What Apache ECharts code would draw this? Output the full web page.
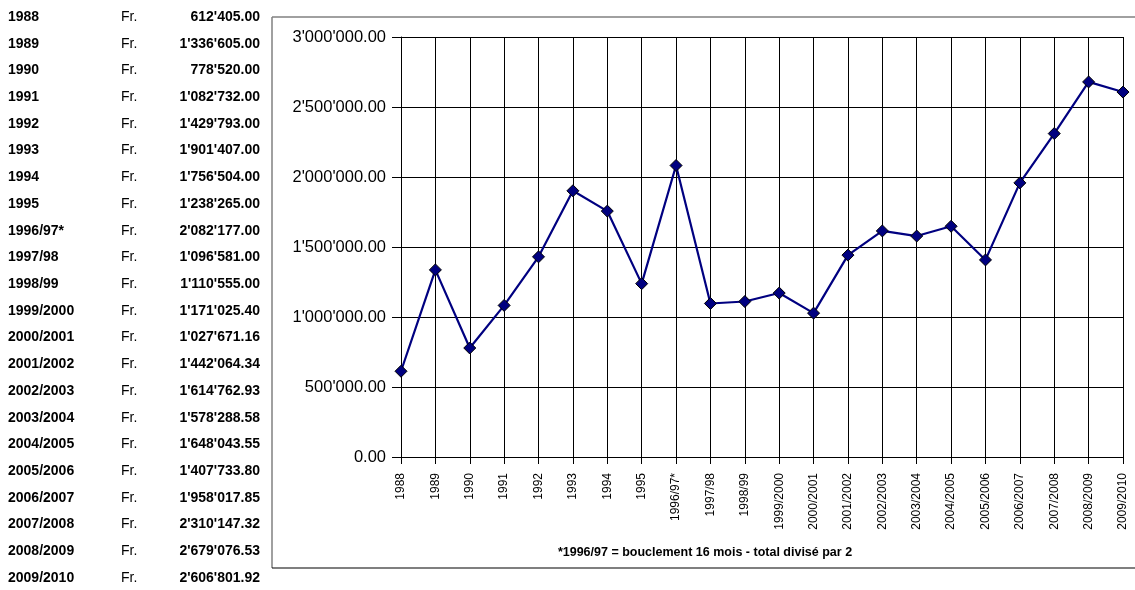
<!DOCTYPE html>
<html><head><meta charset="utf-8">
<script src="https://cdn.jsdelivr.net/npm/echarts@6/dist/echarts.min.js"></script>
<style>html,body{margin:0;padding:0;background:#fff}#c{width:1135px;height:590px}</style>
</head><body><div id="c"></div>
<script>
const categories = ['1988','1989','1990','1991','1992','1993','1994','1995','1996/97*','1997/98','1998/99','1999/2000','2000/2001','2001/2002','2002/2003','2003/2004','2004/2005','2005/2006','2006/2007','2007/2008','2008/2009','2009/2010'];
const axisLabels = ['1988','1989','1990','1991','1992','1993','1994','1995','1996/97*','1997/98','1998/99','1999/2000','2000/2001','2001/2002','2002/2003','2003/2004','2004/2005','2005/2006','2006/2007','2007/2008','2008/2009','2009/2010'];
const values = [612405.00,1336605.00,778520.00,1082732.00,1429793.00,1901407.00,1756504.00,1238265.00,2082177.00,1096581.00,1110555.00,1171025.40,1027671.16,1442064.34,1614762.93,1578288.58,1648043.55,1407733.80,1958017.85,2310147.32,2679076.53,2606801.92];
const currency = 'Fr.';
const footnote = '*1996/97 = bouclement 16 mois - total divisé par 2';

function fmt(v){
  const parts = v.toFixed(2).split('.');
  return parts[0].replace(/\B(?=(\d{3})+(?!\d))/g, "'") + '.' + parts[1];
}
const FONT = '"Liberation Sans", Arial, sans-serif';
const chart = echarts.init(document.getElementById('c'));
const graphics = [];
// frame
graphics.push({type:'line', shape:{x1:272,y1:17,x2:1140,y2:17}, style:{stroke:'#808080',lineWidth:1.5}, silent:true});
graphics.push({type:'line', shape:{x1:272,y1:17,x2:272,y2:568}, style:{stroke:'#808080',lineWidth:1.5}, silent:true});
graphics.push({type:'line', shape:{x1:272,y1:568,x2:1140,y2:568}, style:{stroke:'#000',lineWidth:1.2}, silent:true});
// table
const rowTop = 17, rowStep = (578-17)/21;
categories.forEach((c,i)=>{
  const y = rowTop + i*rowStep;
  graphics.push({type:'text', x:8, y:y, style:{text:c, font:'bold 14px '+FONT, fill:'#000', verticalAlign:'middle', align:'left'}, silent:true});
  graphics.push({type:'text', x:121, y:y, style:{text:currency, font:'14px '+FONT, fill:'#000', verticalAlign:'middle', align:'left'}, silent:true});
  graphics.push({type:'text', x:260, y:y, style:{text:fmt(values[i]), font:'bold 14px '+FONT, fill:'#000', verticalAlign:'middle', align:'right'}, silent:true});
});
graphics.push({type:'text', x:705, y:553, style:{text:footnote, font:'bold 12.5px '+FONT, fill:'#000', verticalAlign:'middle', align:'center'}, silent:true});

chart.setOption({
  animation:false,
  backgroundColor:'#fff',
  grid:{left:401, right:12, top:37, bottom:133, containLabel:false},
  xAxis:{type:'category', data:axisLabels, boundaryGap:false,
    axisLine:{lineStyle:{color:'#000',width:1}},
    axisTick:{show:true, alignWithLabel:true, length:7, lineStyle:{color:'#000'}},
    axisLabel:{rotate:90, interval:0, fontSize:12, fontFamily:FONT, color:'#000', margin:16},
    splitLine:{show:true, lineStyle:{color:'#000',width:1}}},
  yAxis:{type:'value', min:0, max:3000000, interval:500000,
    axisLine:{show:true, lineStyle:{color:'#000'}},
    axisTick:{show:true, length:9, lineStyle:{color:'#000'}},
    axisLabel:{fontSize:16.5, fontFamily:FONT, color:'#000', margin:15, formatter:v=>fmt(v)},
    splitLine:{show:true, lineStyle:{color:'#000',width:1}}},
  series:[{type:'line', data:values, symbol:'diamond', symbolSize:12,
    lineStyle:{color:'#000080', width:2.2},
    itemStyle:{color:'#000080', borderColor:'#000', borderWidth:1}}],
  graphic:graphics
});
</script></body></html>
